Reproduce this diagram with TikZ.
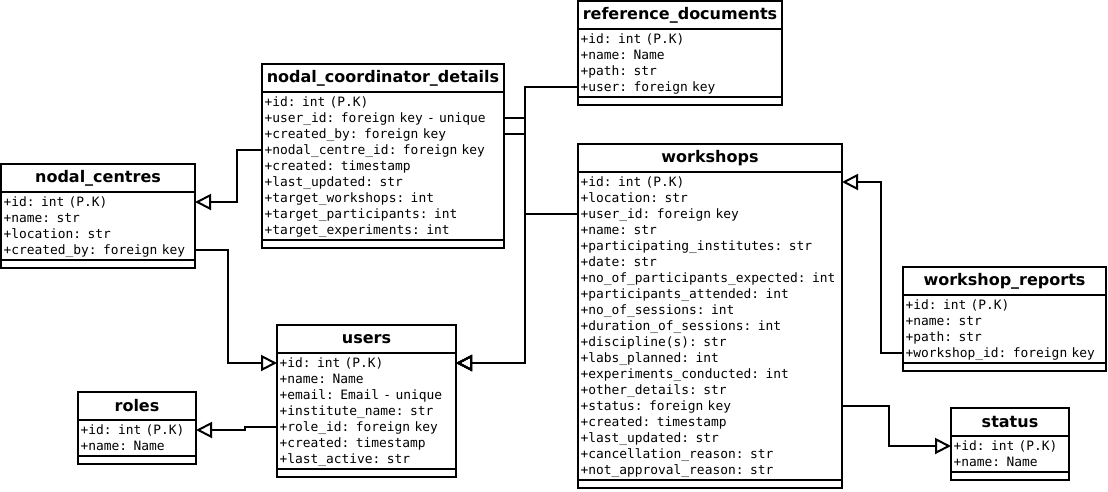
\documentclass[tikz,border=0pt]{standalone}
\usepackage{fontspec}
\usetikzlibrary{arrows.meta}
\newfontfamily\titlefont{DejaVu Sans}
\newfontfamily\attrfont{DejaVu Sans Mono}

\tikzset{
  tbltitle/.style={inner sep=0pt, outer sep=0pt, minimum height=28pt,
    font=\titlefont\bfseries\fontsize{16}{19}\selectfont},
  tblrow/.style={inner xsep=2.5pt, inner ysep=0pt, outer sep=0pt, minimum height=16pt,
    text height=11.5pt, text depth=3pt, align=left,
    font=\attrfont\fontsize{12.9}{16}\selectfont},
  tblline/.style={line width=2pt},
  fk/.style={line width=2pt, -{Triangle[open,length=16pt,width=16pt]}},
}

% table: name, x, y (top), width, title, rows
\newcommand{\erdtable}[6]{%
  \node[tbltitle, minimum width=#4, anchor=north west] (#1) at (#2,#3) {#5};
  \pgfmathsetlengthmacro{\rowwidth}{#4-5pt}
  \foreach \r [count=\i] in {#6} {
    \node[tblrow, text width=\rowwidth, anchor=north west, yshift={-2pt-16pt*(\i-1)}] (#1-\i) at (#1.south west) {\r};
    \xdef\lastrow{\i}
  }
  \draw[tblline] (#1.north west) rectangle ([yshift=-9.5pt]#1-\lastrow.south east);
  \draw[tblline] (#1.south west) -- (#1.south east);
  \draw[tblline] ([yshift=-2pt]#1-\lastrow.south west) -- ([yshift=-2pt]#1-\lastrow.south east);
}

\begin{document}
\begin{tikzpicture}[x=1pt, y=-1pt]
  \useasboundingbox (0,0) rectangle (1108,491);

  % Tables
  \erdtable{ref}{578}{1}{204pt}{reference\_documents}{+id: int (P.K), +name: Name, +path: str, +user: foreign key}
  \erdtable{ncd}{262}{64}{242pt}{nodal\_coordinator\_details}{+id: int (P.K), +user\_id: foreign key - unique, +created\_by: foreign key, +nodal\_centre\_id: foreign key, +created: timestamp, +last\_updated: str, +target\_workshops: int, +target\_participants: int, +target\_experiments: int}
  \erdtable{nc}{1}{164}{194pt}{nodal\_centres}{+id: int (P.K), +name: str, +location: str, +created\_by: foreign key}
  \erdtable{usr}{277}{325}{179pt}{users}{+id: int (P.K), +name: Name, +email: Email - unique, +institute\_name: str, +role\_id: foreign key, +created: timestamp, +last\_active: str}
  \erdtable{rol}{78}{392}{118pt}{roles}{+id: int (P.K), +name: Name}
  \erdtable{ws}{578}{144}{264pt}{workshops}{+id: int (P.K), +location: str, +user\_id: foreign key, +name: str, +participating\_institutes: str, +date: str, +no\_of\_participants\_expected: int, +participants\_attended: int, +no\_of\_sessions: int, +duration\_of\_sessions: int, +discipline(s): str, +labs\_planned: int, +experiments\_conducted: int, +other\_details: str, +status: foreign key, +created: timestamp, +last\_updated: str, +cancellation\_reason: str, +not\_approval\_reason: str}
  \erdtable{wr}{903}{267}{203pt}{workshop\_reports}{+id: int (P.K), +name: str, +path: str, +workshop\_id: foreign key}
  \erdtable{st}{951}{408}{118pt}{status}{+id: int (P.K), +name: Name}

  % Foreign keys
  \draw[fk] (ncd-4.west) -- ++(-25,0) |- (nc-1.east);
  \draw[fk] (nc-4.east) -- ++(33,0) |- (usr-1.west);
  \draw[fk] (ref-4.west) -- ++(-53,0) |- (usr-1.east);
  \draw[fk] (ncd-2.east) -- ++(21,0) |- (usr-1.east);
  \draw[fk] (ncd-3.east) -- ++(21,0) |- (usr-1.east);
  \draw[fk] (ws-3.west) -- ++(-53,0) |- (usr-1.east);
  \draw[fk] (usr-5.west) -- ++(-32,0) |- (rol-1.east);
  \draw[fk] (wr-4.west) -- ++(-22,0) |- (ws-1.east);
  \draw[fk] (ws-15.east) -- ++(47,0) |- (st-1.west);
\end{tikzpicture}
\end{document}
